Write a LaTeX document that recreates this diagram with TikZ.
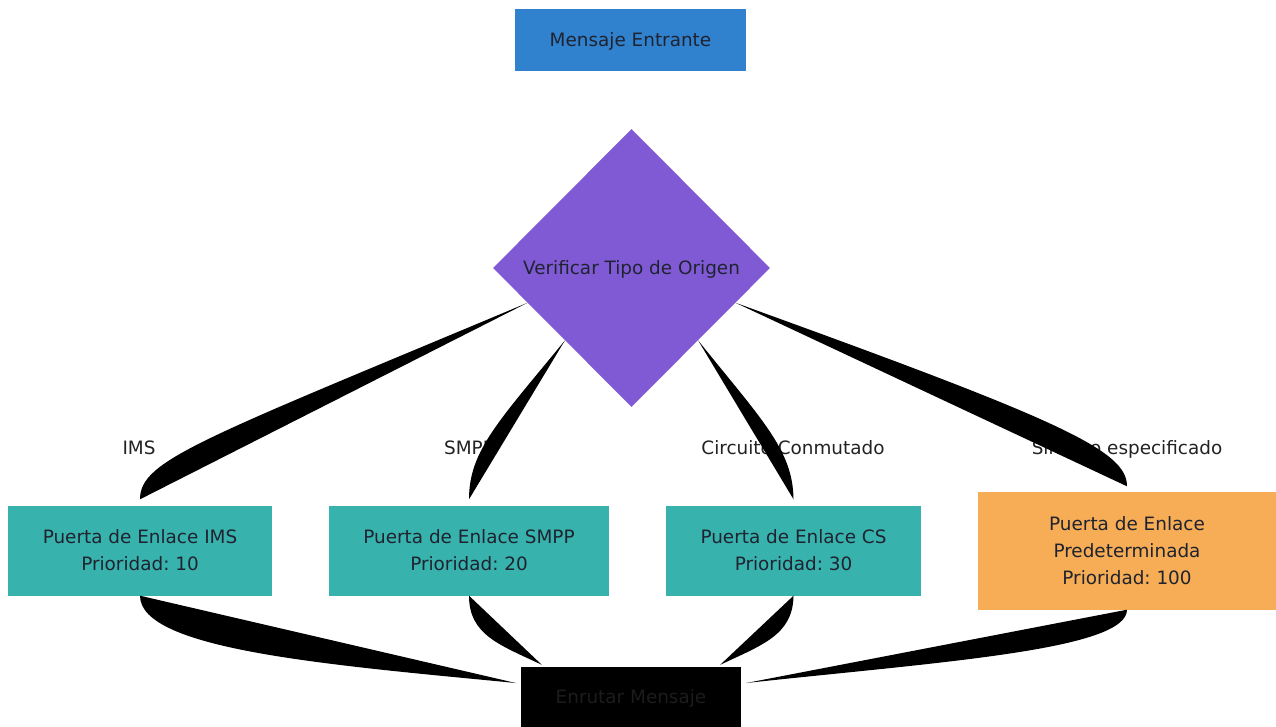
\documentclass[tikz,border=0pt]{standalone}
\usepackage{fontspec}
\setmainfont{DejaVu Sans}
\usetikzlibrary{shapes.geometric,calc}
\definecolor{cblue}{HTML}{3182CE}
\definecolor{cpurple}{HTML}{805AD5}
\definecolor{cteal}{HTML}{38B2AC}
\definecolor{corange}{HTML}{F6AD55}
\definecolor{txt}{HTML}{1F2330}
\definecolor{lbl}{HTML}{222222}
\definecolor{routetxt}{HTML}{1C1C1C}
\frenchspacing
\begin{document}
\begin{tikzpicture}[x=1pt,y=-1pt,
  every node/.style={font=\fontsize{18.4}{27}\selectfont\frenchspacing, text=txt},
  box/.style={rectangle, inner sep=0pt, align=center, draw=none},
  oneline/.style={text depth=0pt},
  edgefill/.style={fill=black, draw=none},
  elabel/.style={text=lbl, inner sep=0pt, anchor=base}]
\useasboundingbox (0,0) rectangle (1276,727);
% nodes
\node[box, oneline, fill=cblue, minimum width=231, minimum height=62] (start) at (630.5,40) {Mensaje Entrante};
\node[diamond, oneline, fill=cpurple, minimum width=277, minimum height=278, inner sep=0pt] (chk) at (631.5,268) {Verificar Tipo de Origen};
\node[box, fill=cteal, minimum width=264, minimum height=90] (ims) at (140,550.5) {Puerta de Enlace IMS\\Prioridad: 10};
\node[box, fill=cteal, minimum width=280, minimum height=90] (smpp) at (469,550.5) {Puerta de Enlace SMPP\\Prioridad: 20};
\node[box, fill=cteal, minimum width=255, minimum height=90] (cs) at (793.5,550.5) {Puerta de Enlace CS\\Prioridad: 30};
\node[box, fill=corange, minimum width=298, minimum height=118] (def) at (1127,550.5) {Puerta de Enlace\\Predeterminada\\Prioridad: 100};
\node[box, oneline, fill=black, text=routetxt, minimum width=220, minimum height=60] (route) at (631,697) {Enrutar Mensaje};
% edge labels
\node[elabel] (lims) at (139,454.5) {IMS};
\node[elabel] (lsmpp) at (469,454.5) {SMPP};
\node[elabel] (lcs) at (793,454.5) {Circuito Conmutado};
\node[elabel] (ldef) at (1127,454.5) {Sin tipo especificado};
% edges from decision
\fill[edgefill] ($(chk.west)!0.25!(chk.south)$) .. controls (200,440) and (140,460) .. ($(ims.north)+(0,-6)$) -- cycle;
\fill[edgefill] ($(chk.west)!0.52!(chk.south)$) .. controls (500,420) and (469,450) .. ($(smpp.north)+(0,-6)$) -- cycle;
\fill[edgefill] ($(chk.east)!0.52!(chk.south)$) .. controls (762,420) and (793,450) .. ($(cs.north)+(0,-6)$) -- cycle;
\fill[edgefill] ($(chk.east)!0.25!(chk.south)$) .. controls (1060,420) and (1127,450) .. ($(def.north)+(0,-5)$) -- cycle;
% edges to route
\fill[edgefill] (ims.south) .. controls (140,650) and (330,665) .. ($(route.west)+(-5,-14)$) -- cycle;
\fill[edgefill] (smpp.south) .. controls (469,635) and (500,645) .. ($(route.north west)+(21,-2)$) -- cycle;
\fill[edgefill] (cs.south) .. controls (793,635) and (762,645) .. ($(route.north east)+(-21,-2)$) -- cycle;
\fill[edgefill] (def.south) .. controls (1127,650) and (940,662) .. ($(route.east)+(5,-14)$) -- cycle;
\end{tikzpicture}
\end{document}
